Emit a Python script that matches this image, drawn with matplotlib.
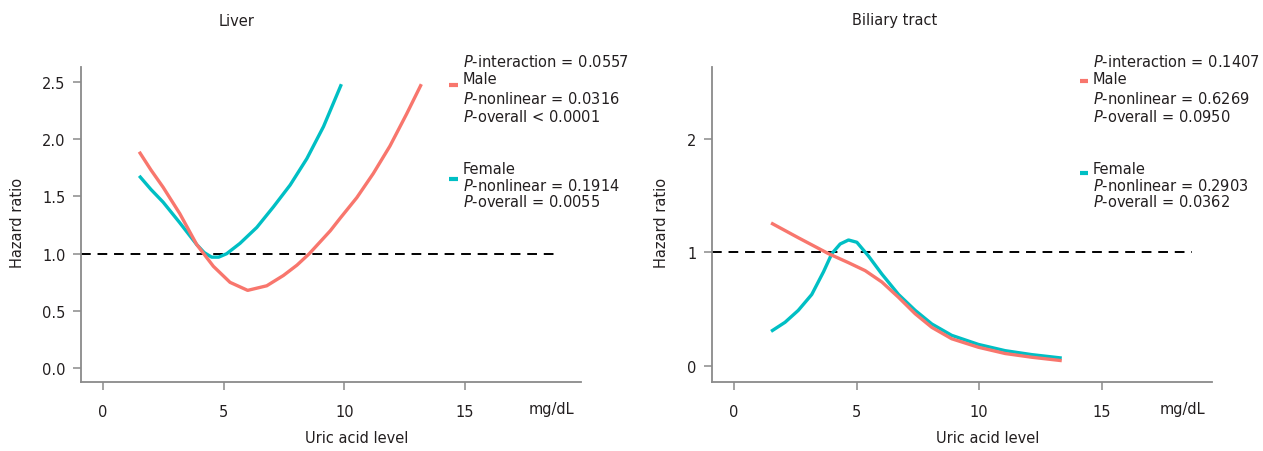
import matplotlib
matplotlib.use("Agg")
import matplotlib.pyplot as plt
from matplotlib.lines import Line2D

plt.rcParams['font.family'] = ['DejaVu Sans']
plt.rcParams['mathtext.fontset'] = 'dejavusans'

W, H = 1263, 452
MALE_C = "#F8766D"
FEMALE_C = "#00BFC4"
SPINE_C = "#8a8a8a"
TEXT_C = "#231f20"

# ---- Data ----
liver_male_x = [1.51, 2.0, 2.5, 3.19, 3.89, 4.58, 5.27, 6.0, 6.79, 7.48, 8.04, 8.55,
                9.42, 9.83, 10.52, 11.2, 11.89, 12.58, 13.19]
liver_male_y = [1.89, 1.73, 1.58, 1.35, 1.08, 0.89, 0.75, 0.68, 0.72, 0.81, 0.90, 1.00,
                1.20, 1.31, 1.49, 1.70, 1.94, 2.22, 2.48]
liver_female_x = [1.51, 2.0, 2.5, 3.19, 3.89, 4.2, 4.51, 4.8, 5.13, 5.68, 6.38, 7.07,
                  7.76, 8.45, 9.14, 9.88]
liver_female_y = [1.68, 1.56, 1.45, 1.27, 1.08, 1.01, 0.97, 0.97, 1.00, 1.09, 1.23, 1.41,
                  1.60, 1.83, 2.11, 2.48]

bil_male_x = [1.51, 2.62, 3.85, 4.67, 5.35, 6.03, 6.71, 7.39, 8.07, 8.88, 9.97, 11.06,
              12.15, 13.37]
bil_male_y = [1.26, 1.13, 0.99, 0.91, 0.84, 0.74, 0.605, 0.46, 0.34, 0.24, 0.165, 0.11,
              0.077, 0.047]
bil_female_x = [1.51, 2.08, 2.62, 3.17, 3.65, 3.99, 4.33, 4.67, 5.01, 5.48, 6.03, 6.71,
                7.39, 8.07, 8.88, 9.97, 11.06, 12.15, 13.37]
bil_female_y = [0.305, 0.385, 0.49, 0.63, 0.83, 0.99, 1.075, 1.11, 1.09, 0.97, 0.81, 0.63,
                0.49, 0.37, 0.27, 0.19, 0.135, 0.10, 0.07]

x_ticks = [0, 5, 10, 15]
liver_yticks = [0.0, 0.5, 1.0, 1.5, 2.0, 2.5]
liver_yticklabels = ["0.0", "0.5", "1.0", "1.5", "2.0", "2.5"]
bil_yticks = [0, 1, 2]
bil_yticklabels = ["0", "1", "2"]

liver_stats = ["$P$-interaction = 0.0557", "Male", "$P$-nonlinear = 0.0316", "$P$-overall < 0.0001",
               "Female", "$P$-nonlinear = 0.1914", "$P$-overall = 0.0055"]
bil_stats = ["$P$-interaction = 0.1407", "Male", "$P$-nonlinear = 0.6269", "$P$-overall = 0.0950",
             "Female", "$P$-nonlinear = 0.2903", "$P$-overall = 0.0362"]

fig = plt.figure(figsize=(W / 100, H / 100), dpi=100)


def fx(x):
    return x / W


def fy(y):
    return 1 - y / H


def make_ax(left, right, xlim, ylim, yticks, ylabels):
    ax = fig.add_axes([fx(left), fy(383), fx(right) - fx(left), fy(68) - fy(383)])
    ax.set_xlim(*xlim)
    ax.set_ylim(*ylim)
    for s in ["top", "right"]:
        ax.spines[s].set_visible(False)
    for s in ["left", "bottom"]:
        ax.spines[s].set_color(SPINE_C)
        ax.spines[s].set_linewidth(1.3)
    ax.set_xticks(x_ticks)
    ax.set_xticklabels([str(t) for t in x_ticks])
    ax.set_yticks(yticks)
    ax.set_yticklabels(ylabels)
    ax.tick_params(axis="both", direction="out", length=6, width=1.1, color=SPINE_C,
                   labelsize=10.5, labelcolor=TEXT_C)
    ax.tick_params(axis="x", pad=10)
    ax.tick_params(axis="y", pad=5)
    return ax


ax1 = make_ax(81, 581, (-0.9, 19.8), (-0.12, 2.63), liver_yticks, liver_yticklabels)
ax2 = make_ax(712, 1212, (-0.9, 19.5), (-0.141, 2.634), bil_yticks, bil_yticklabels)

for ax, mx, my, fxd, fyd, xend in [
    (ax1, liver_male_x, liver_male_y, liver_female_x, liver_female_y, 18.9),
    (ax2, bil_male_x, bil_male_y, bil_female_x, bil_female_y, 18.7),
]:
    ax.plot([ax.get_xlim()[0], xend], [1, 1], color="black", lw=1.4, ls=(0, (5, 3.5)), zorder=1)
    ax.plot(mx, my, color=MALE_C, lw=2.4, solid_capstyle="butt", solid_joinstyle="round", zorder=3)
    ax.plot(fxd, fyd, color=FEMALE_C, lw=2.4, solid_capstyle="butt", solid_joinstyle="round", zorder=2)

# titles
fig.text(fx(237), fy(21), "Liver", ha="center", va="center", fontsize=10.5, color=TEXT_C)
fig.text(fx(895), fy(21), "Biliary tract", ha="center", va="center", fontsize=10.5, color=TEXT_C)

# axis labels
for xc, yc in [(18, 223), (662, 223)]:
    fig.text(fx(xc), fy(yc), "Hazard ratio", rotation=90, ha="center", va="center",
             fontsize=10.5, color=TEXT_C)
for xc in [357, 988]:
    fig.text(fx(xc), fy(439), "Uric acid level", ha="center", va="center", fontsize=10.5, color=TEXT_C)
for xc in [551, 1182]:
    fig.text(fx(xc), fy(410), "mg/dL", ha="center", va="center", fontsize=10.5, color=TEXT_C)

# stats blocks
line_y = [62, 80, 99, 117, 170, 186, 202]
for x0, stats, mk_x, mk_y in [
    (463, liver_stats, (449, 458), (86, 180)),
    (1093, bil_stats, (1080, 1088), (82, 174)),
]:
    for yy, t in zip(line_y, stats):
        fig.text(fx(x0), fy(yy), t, ha="left", va="center", fontsize=10.5, color=TEXT_C)
    for yy, c in zip(mk_y, [MALE_C, FEMALE_C]):
        fig.add_artist(Line2D([fx(mk_x[0]), fx(mk_x[1])], [fy(yy), fy(yy)], color=c, lw=3,
                              transform=fig.transFigure, solid_capstyle="butt"))

fig.savefig("out.png", dpi=100)
